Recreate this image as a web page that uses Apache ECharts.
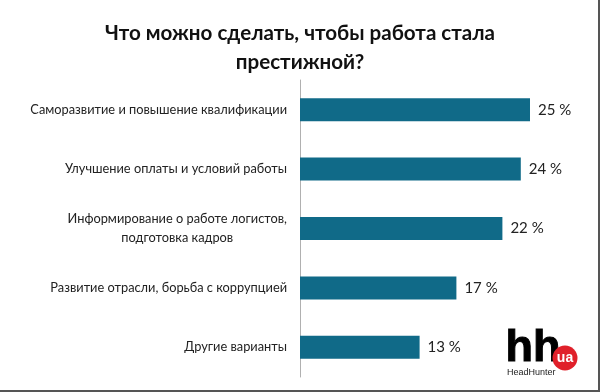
<!DOCTYPE html>
<html><head><meta charset="utf-8">
<script src="https://cdn.jsdelivr.net/npm/echarts@6/dist/echarts.min.js"></script>
<style>html,body{margin:0;padding:0;background:#fff}#c{width:600px;height:392px}</style>
</head><body><div id="c"></div>
<script>
var titleText = 'Что можно сделать, чтобы работа стала\nпрестижной?';
var categories = [
  'Саморазвитие и повышение квалификации',
  'Улучшение оплаты и условий работы',
  'Информирование о работе логистов,\nподготовка кадров',
  'Развитие отрасли, борьба с коррупцией',
  'Другие варианты'
];
var values = [25, 24, 22, 17, 13];

var chart = echarts.init(document.getElementById('c'));
chart.setOption({
  animation: false,
  title: {
    text: titleText, left: 'center', top: 14,
    textStyle: {fontFamily: 'Lato', fontWeight: 'bold', fontSize: 20.6, lineHeight: 29, color: '#111'}
  },
  grid: {left: 300, top: 80, bottom: 15, width: 276},
  xAxis: {type: 'value', min: 0, max: 30, show: false},
  yAxis: {
    type: 'category', data: categories, inverse: true,
    axisLine: {show: true, lineStyle: {color: '#b0b0b0', width: 1}},
    axisTick: {show: false},
    axisLabel: {
      margin: 13, color: '#222', fontFamily: 'Lato', fontSize: 12.8, lineHeight: 19,
      formatter: function (v) {
        return v.split('\n').map(function (s) { return '{c|' + s + '}'; }).join('\n');
      },
      rich: {c: {align: 'center', fontFamily: 'Lato', fontSize: 12.8, lineHeight: 19, color: '#222'}}
    }
  },
  series: [{
    type: 'bar', data: values, barWidth: 23,
    itemStyle: {color: '#106a88'},
    label: {show: true, position: 'right', distance: 8, formatter: '{c} %',
      fontFamily: 'Lato', fontSize: 15, color: '#222'}
  }],
  graphic: [
    {type: 'rect', shape: {x: 598, y: 0, width: 2, height: 392}, style: {fill: '#555'}},
    {type: 'rect', shape: {x: 0, y: 390, width: 600, height: 2}, style: {fill: '#555'}},
    {type: 'text', left: 505, top: 326, style: {text: 'hh', fontFamily: 'Liberation Sans', fontWeight: 'bold', fontSize: 45, fill: '#000', stroke: '#000', lineWidth: 1}},
    {type: 'circle', shape: {cx: 565, cy: 358, r: 12.5}, style: {fill: '#e0202a'}},
    {type: 'text', x: 565, y: 358, style: {text: 'ua', align: 'center', verticalAlign: 'middle', fontFamily: 'Liberation Sans', fontWeight: 'bold', fontSize: 14, fill: '#fff'}},
    {type: 'text', x: 507, y: 373, style: {text: 'HeadHunter', verticalAlign: 'middle', fontFamily: 'Liberation Sans', fontSize: 9, fill: '#222'}}
  ]
});
</script></body></html>
